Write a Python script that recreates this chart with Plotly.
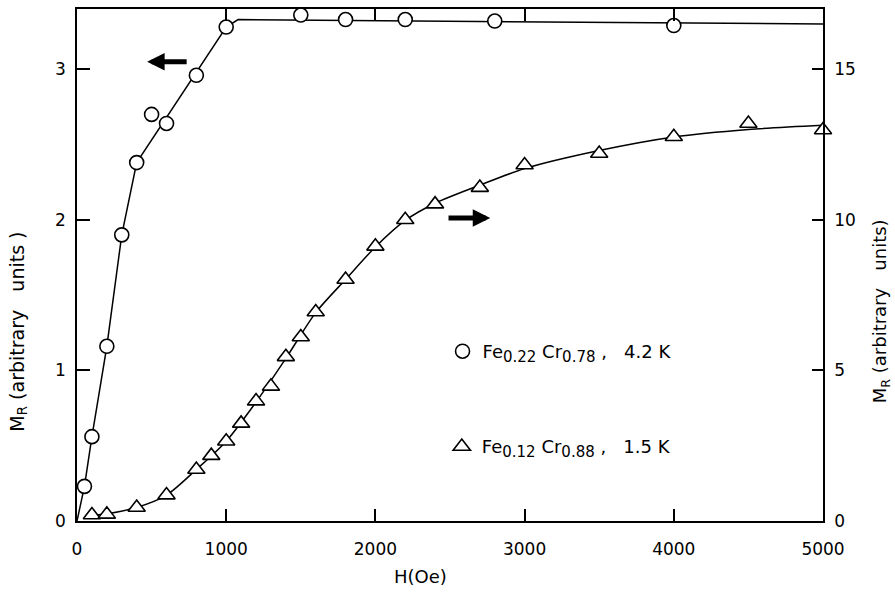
import plotly.graph_objects as go

# Fe0.22Cr0.78 at 4.2 K  (left axis)
fe22_h = [50, 100, 200, 300, 400, 500, 600, 800, 1000, 1500, 1800, 2200, 2800, 4000]
fe22_m = [0.23, 0.56, 1.16, 1.90, 2.38, 2.70, 2.64, 2.96, 3.28, 3.36, 3.33, 3.33, 3.32, 3.29]
# drawn guide line for Fe0.22Cr0.78
fe22_fit_h = [0, 50, 100, 200, 300, 400, 1000, 1080, 5000]
fe22_fit_m = [0, 0.23, 0.56, 1.16, 1.90, 2.38, 3.28, 3.33, 3.30]

# Fe0.12Cr0.88 at 1.5 K  (right axis)
fe12_h = [100, 200, 400, 600, 800, 900, 1000, 1100, 1200, 1300, 1400, 1500, 1600,
          1800, 2000, 2200, 2400, 2700, 3000, 3500, 4000, 4500, 5000]
fe12_m = [0.20, 0.22, 0.45, 0.86, 1.71, 2.17, 2.65, 3.24, 3.98, 4.47, 5.45, 6.11, 6.94,
          8.02, 9.12, 10.0, 10.52, 11.07, 11.82, 12.2, 12.76, 13.2, 12.98]
# drawn guide line for Fe0.12Cr0.88
fe12_fit_h = [100, 200, 400, 600, 800, 1000, 1200, 1400, 1600, 1800, 2000, 2200,
              2400, 2700, 3000, 3500, 4000, 4500, 5000]
fe12_fit_m = [0.18, 0.24, 0.45, 0.86, 1.71, 2.65, 3.95, 5.40, 6.92, 8.02, 9.10, 9.98,
              10.55, 11.15, 11.70, 12.30, 12.75, 13.00, 13.14]

h_ticks = [0, 1000, 2000, 3000, 4000, 5000]
left_ticks = [0, 1, 2, 3]
right_ticks = [0, 5, 10, 15]

FONT = "DejaVu Sans"
INK = "black"


def alloy(fe, cr, temp):
    sub = '<sub><span style="font-size:15px">{}</span></sub>'
    return ("Fe" + sub.format(fe) + "&nbsp;Cr" + sub.format(cr)
            + "&nbsp;,&nbsp;&nbsp;&nbsp;" + temp)


fig = go.Figure()

fig.add_trace(go.Scatter(x=fe22_fit_h, y=fe22_fit_m, mode="lines",
                         line=dict(color=INK, width=1.5), showlegend=False,
                         hoverinfo="skip"))
fig.add_trace(go.Scatter(x=fe22_h, y=fe22_m, mode="markers", cliponaxis=False,
                         name=alloy("0.22", "0.78", "4.2 K"),
                         marker=dict(symbol="circle", size=14, color="white",
                                     line=dict(color=INK, width=1.6)),
                         legend="legend"))
fig.add_trace(go.Scatter(x=fe12_fit_h, y=fe12_fit_m, mode="lines", yaxis="y2",
                         line=dict(color=INK, width=1.5, shape="spline", smoothing=0.8),
                         showlegend=False, hoverinfo="skip"))
fig.add_trace(go.Scatter(x=fe12_h, y=fe12_m, mode="markers", yaxis="y2", cliponaxis=False,
                         name=alloy("0.12", "0.88", "1.5 K"),
                         marker=dict(symbol="triangle-up", size=15, color="white",
                                     line=dict(color=INK, width=1.6)),
                         legend="legend2"))

axis_common = dict(showline=True, linecolor=INK, linewidth=1.5, ticks="inside",
                   tickcolor=INK, tickwidth=1.5, showgrid=False, zeroline=False,
                   tickfont=dict(family=FONT, size=17, color=INK))

fig.update_layout(
    width=895, height=602,
    margin=dict(l=77, r=72, t=7, b=81),
    paper_bgcolor="white", plot_bgcolor="white",
    font=dict(family=FONT, size=17, color=INK),
    xaxis=dict(range=[0, 5000], tickvals=h_ticks, ticklen=12, mirror="ticks",
               ticklabelstandoff=12, **axis_common),
    yaxis=dict(range=[0, 3.4], tickvals=left_ticks, ticklen=13,
               ticklabelstandoff=6, **axis_common),
    yaxis2=dict(range=[0, 17], tickvals=right_ticks, ticklen=11, overlaying="y",
                side="right", ticklabelstandoff=6, **axis_common),
    legend=dict(x=0.49, y=0.331, xanchor="left", yanchor="middle",
                bgcolor="rgba(0,0,0,0)", font=dict(family=FONT, size=18, color=INK)),
    legend2=dict(x=0.489, y=0.145, xanchor="left", yanchor="middle",
                 bgcolor="rgba(0,0,0,0)", font=dict(family=FONT, size=18, color=INK)),
)

annotations = [
    # axis titles
    dict(text="H(Oe)", x=0.46, y=-0.109, xref="paper", yref="paper",
         showarrow=False, xanchor="center", yanchor="middle",
         font=dict(family=FONT, size=18, color=INK)),
    dict(text="M<sub>R</sub>&nbsp;(arbitrary&nbsp;&nbsp;&nbsp;units )", x=-0.079, y=0.37,
         xref="paper", yref="paper", showarrow=False, textangle=-90,
         xanchor="center", yanchor="middle",
         font=dict(family=FONT, size=19, color=INK)),
    dict(text="M<sub>R</sub>&nbsp;(arbitrary&nbsp;&nbsp;&nbsp;units)", x=1.078, y=0.41,
         xref="paper", yref="paper", showarrow=False, textangle=-90,
         xanchor="center", yanchor="middle",
         font=dict(family=FONT, size=18, color=INK)),
    # arrows pointing to each curve's axis
    dict(x=470, y=3.05, ax=745, ay=3.05, xref="x", yref="y", axref="x", ayref="y",
         text="", showarrow=True, arrowhead=2, arrowsize=0.7, arrowwidth=5,
         arrowcolor=INK),
    dict(x=2770, y=2.012, ax=2480, ay=2.012, xref="x", yref="y", axref="x", ayref="y",
         text="", showarrow=True, arrowhead=2, arrowsize=0.7, arrowwidth=5,
         arrowcolor=INK),
]
fig.update_layout(annotations=annotations)

fig.write_html("out.html")
